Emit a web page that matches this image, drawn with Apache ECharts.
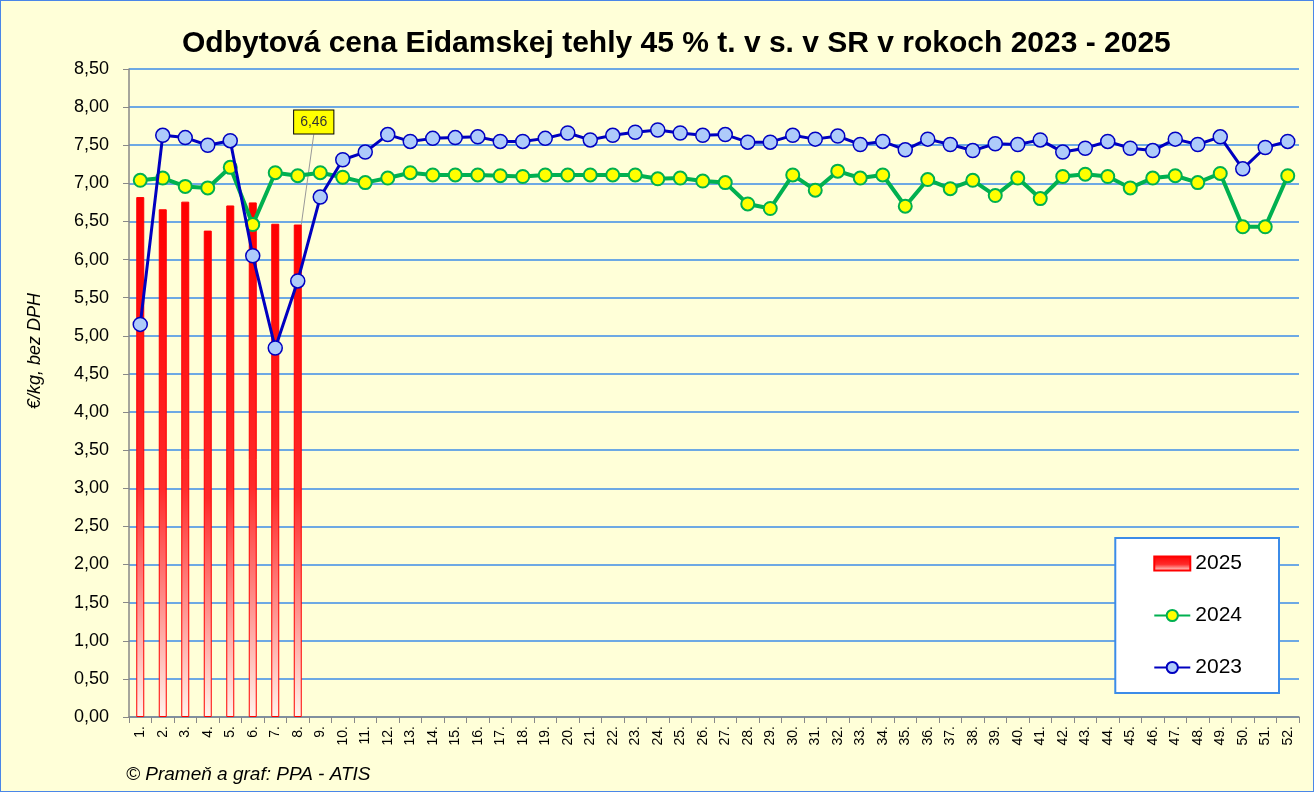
<!DOCTYPE html>
<html><head><meta charset="utf-8">
<script src="https://cdn.jsdelivr.net/npm/echarts@6/dist/echarts.min.js"></script>
<style>
html,body{margin:0;padding:0;background:#fff;}
#c{width:1312px;height:790px;border:1px solid #4a86e8;background:#FFFFD8;}
</style></head>
<body><div id="c"></div>
<script>
const weeks = Array.from({length:52},(_,i)=>(i+1)+'.');
const s2025 = [6.82,6.66,6.76,6.38,6.71,6.75,6.47,6.46];
const s2024 = [7.04,7.07,6.96,6.94,7.21,6.46,7.14,7.10,7.14,7.08,
               7.01,7.07,7.14,7.11,7.11,7.11,7.10,7.09,7.11,7.11,
               7.11,7.11,7.11,7.06,7.07,7.03,7.01,6.73,6.67,7.11,
               6.91,7.16,7.07,7.11,6.70,7.05,6.93,7.04,6.84,7.07,
               6.80,7.09,7.12,7.09,6.94,7.07,7.10,7.01,7.13,6.43,
               6.43,7.10];
const s2023 = [5.15,7.63,7.60,7.50,7.56,6.05,4.84,5.72,6.82,7.31,
               7.41,7.64,7.55,7.59,7.60,7.61,7.55,7.55,7.59,7.66,
               7.57,7.63,7.67,7.70,7.66,7.63,7.64,7.54,7.54,7.63,
               7.58,7.62,7.51,7.55,7.44,7.58,7.51,7.43,7.52,7.51,
               7.57,7.41,7.46,7.55,7.46,7.43,7.58,7.51,7.61,7.19,
               7.47,7.55];
const labelledWeek = 8;

const fmt = v => v.toFixed(2).replace('.', ',');
const barData = s2025.map((v,i)=> i===labelledWeek-1 ? {
  value:v,
  label:{show:true,position:'top',formatter:p=>fmt(p.value),
    backgroundColor:'#FFFF00',borderColor:'#000',borderWidth:1,padding:[5,6,4,6],
    fontSize:14,color:'#333',fontFamily:'Liberation Sans'},
  labelLine:{show:true,lineStyle:{color:'#999',width:1}}
} : v);

const chart = echarts.init(document.getElementById('c'));
chart.setOption({
  animation:false,
  backgroundColor:'#FFFFD8',
  title:{text:'Odbytová cena Eidamskej tehly 45 % t. v s. v SR v rokoch 2023 - 2025',
    left:176,top:23,
    textStyle:{fontFamily:'Liberation Sans',fontWeight:'bold',fontSize:30,color:'#000'}},
  grid:{left:128,right:14,top:68,bottom:74},
  legend:{orient:'vertical',right:34,top:537,
    backgroundColor:'#fff',borderColor:'#3c8ce8',borderWidth:2,
    padding:[15,37,15,38],itemGap:31,itemWidth:36,itemHeight:14,
    textStyle:{fontSize:21,color:'#000',fontFamily:'Liberation Sans'},
    data:[{name:'2025',icon:'rect'},'2024','2023']},
  xAxis:{type:'category',data:weeks,boundaryGap:true,
    axisLine:{lineStyle:{color:'#888',width:1.5}},
    axisTick:{show:true,length:6,lineStyle:{color:'#888'}},
    axisLabel:{rotate:90,interval:0,fontSize:14,color:'#000',fontFamily:'Liberation Sans',margin:9}},
  yAxis:{type:'value',min:0,max:8.5,interval:0.5,
    axisLine:{show:true,lineStyle:{color:'#888',width:1.5}},
    axisTick:{show:true,length:6,lineStyle:{color:'#888'}},
    axisLabel:{formatter:v=>fmt(v),fontSize:18,color:'#000',fontFamily:'Liberation Sans',margin:20},
    splitLine:{lineStyle:{color:'#3c8ce8',width:1.5}}},
  graphic:[
    {type:'text',left:25,top:292,rotation:Math.PI/2,
     style:{text:'€/kg, bez DPH',font:'italic 18px "Liberation Sans"',fill:'#000'}},
    {type:'text',left:125,top:764,
     style:{text:'© Prameň a graf: PPA - ATIS',font:'italic 19px "Liberation Sans"',fill:'#000'}}
  ],
  series:[
    {name:'2025',type:'bar',data:barData,barWidth:8,z:2,
     itemStyle:{borderColor:'#FF0000',borderWidth:1,
       color:new echarts.graphic.LinearGradient(0,0,0,1,[
         {offset:0,color:'#FF0000'},{offset:0.55,color:'#FF2A2A'},{offset:1,color:'#FFF3EC'}])},
     labelLayout:{dx:16,dy:-86}},
    {name:'2024',type:'line',data:s2024,z:3,symbol:'circle',symbolSize:13,
     lineStyle:{color:'#00B050',width:4},
     itemStyle:{color:'#FFFF00',borderColor:'#00B050',borderWidth:2}},
    {name:'2023',type:'line',data:s2023,z:4,symbol:'circle',symbolSize:14,
     lineStyle:{color:'#0000C0',width:3},
     itemStyle:{color:'#AECBFA',borderColor:'#0000C0',borderWidth:1.5}}
  ]
});
</script></body></html>
